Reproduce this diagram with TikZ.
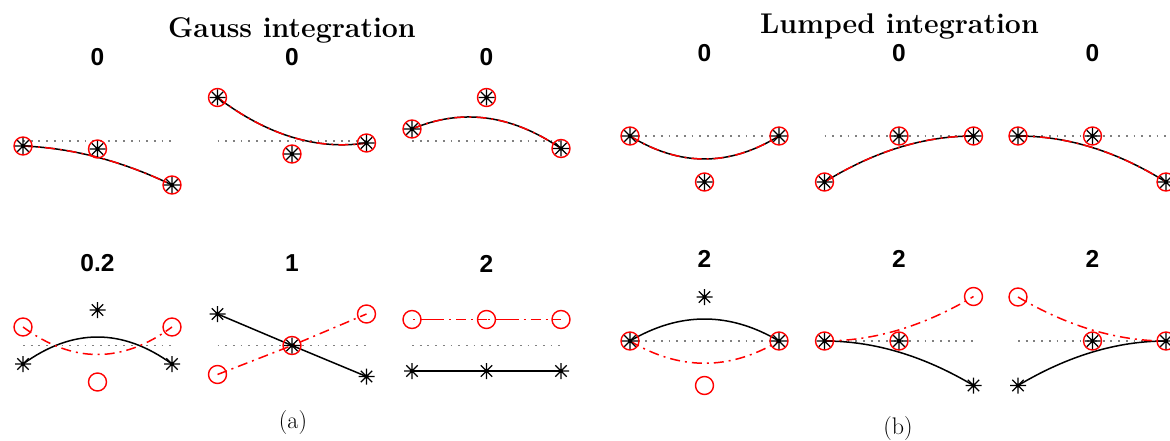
\documentclass[tikz,border=0pt]{standalone}
\usepackage{fontspec}
\newfontfamily\labfont{Liberation Sans}
\usetikzlibrary{calc}
\tikzset{
 blk/.style={black, line width=1.5pt},
 rdd/.style={red, line width=1.5pt, dash pattern=on 10pt off 5pt on 2pt off 5pt},
 dots/.style={black!50, line width=1.8pt, dash pattern=on 1.8pt off 5.9pt},
 circ/.style={circle, draw=red, line width=1.4pt, minimum size=18pt, inner sep=0pt},
 num/.style={font=\labfont\bfseries\fontsize{24.5}{26}\selectfont, inner sep=0pt},
 ttl/.style={font=\bfseries\fontsize{28.5}{31}\selectfont, inner sep=0pt, anchor=base},
 capt/.style={font=\fontsize{24}{26}\selectfont, inner sep=0pt, anchor=base},
 astk/.pic={\draw[line width=1.3pt] (-8,0)--(8,0) (0,-8)--(0,8) (-5.7,-5.7)--(5.7,5.7) (-5.7,5.7)--(5.7,-5.7);}
}
\newcommand\qcurve[4]{\draw[#1] (#2) .. controls ($(#2)!2/3!(#3)$) and ($(#4)!2/3!(#3)$) .. (#4);}
\newcommand\both[1]{\node[circ] at (#1) {}; \pic at (#1) {astk};}
\newcommand\ring[1]{\node[circ] at (#1) {};}
\newcommand\aster[1]{\pic at (#1) {astk};}
\begin{document}
\begin{tikzpicture}[x=1pt,y=-1pt]
\useasboundingbox (0,0) rectangle (1170,441);
\clip (0,0) rectangle (1170,441);
% ---------- titles and captions
\node[ttl] (tA) at (292,37.3) {Gauss integration};
\node[ttl] (tB) at (899.5,33.3) {Lumped integration};
\node[capt] (ca) at (293,428.5) {(a)};
\node[capt] (cb) at (898,434.5) {(b)};
% ---------- labels
\node[num] (la1) at (97.5,57) {0};
\node[num] (la2) at (292,57) {0};
\node[num] (la3) at (486.5,57) {0};
\node[num] (la4) at (97.5,263.5) {0.2};
\node[num] (la5) at (292,263.5) {1};
\node[num] (la6) at (486.5,263.5) {2};
\node[num] (lb1) at (704.5,53) {0};
\node[num] (lb2) at (899,53) {0};
\node[num] (lb3) at (1092.5,53) {0};
\node[num] (lb4) at (704.5,258.5) {2};
\node[num] (lb5) at (899,258.5) {2};
\node[num] (lb6) at (1092.5,258.5) {2};
% ---------- coordinates
% A1
\coordinate (a1l) at (23,146); \coordinate (a1m) at (97.5,149); \coordinate (a1r) at (172,185);
% A2
\coordinate (a2l) at (217.5,97.5); \coordinate (a2m) at (292,154); \coordinate (a2r) at (366.5,143);
% A3
\coordinate (a3l) at (412,129); \coordinate (a3m) at (486.5,97.5); \coordinate (a3r) at (561,148.5);
% A4
\coordinate (a4rl) at (23,327); \coordinate (a4rm) at (97.5,382); \coordinate (a4rr) at (172,327);
\coordinate (a4sl) at (23,364); \coordinate (a4sm) at (97.5,310); \coordinate (a4sr) at (172,364);
% A5
\coordinate (a5sl) at (217.5,314); \coordinate (a5m) at (292,345.5); \coordinate (a5sr) at (366.5,376.5);
\coordinate (a5rl) at (217.5,374.5); \coordinate (a5rr) at (366.5,314);
% A6
\coordinate (a6rl) at (412,319.5); \coordinate (a6rm) at (486.5,319.5); \coordinate (a6rr) at (561,319.5);
\coordinate (a6sl) at (412,371); \coordinate (a6sm) at (486.5,371); \coordinate (a6sr) at (561,371);
% B1
\coordinate (b1l) at (630,136); \coordinate (b1m) at (704.5,182); \coordinate (b1r) at (779,136);
% B2
\coordinate (b2l) at (824.5,182); \coordinate (b2m) at (899,136); \coordinate (b2r) at (973.5,136);
% B3
\coordinate (b3l) at (1018,136); \coordinate (b3m) at (1092.5,136); \coordinate (b3r) at (1166,182);
% B4
\coordinate (b4l) at (630,341); \coordinate (b4r) at (779,341);
\coordinate (b4s) at (704.5,297); \coordinate (b4c) at (704.5,385.5);
% B5
\coordinate (b5l) at (824.5,341); \coordinate (b5m) at (899,341);
\coordinate (b5c) at (973.5,296.5); \coordinate (b5s) at (973.5,385.5);
% B6
\coordinate (b6c) at (1018,297); \coordinate (b6s) at (1018,385.5);
\coordinate (b6m) at (1092.5,341); \coordinate (b6r) at (1166,341);
% ---------- dotted reference lines
\draw[dots] (23,141) -- (172,141);
\draw[dots] (217.5,141) -- (366.5,141);
\draw[dots] (412,141) -- (561,141);
\draw[dots] (23,345.5) -- (172,345.5);
\draw[dots] (217.5,345.5) -- (366.5,345.5);
\draw[dots] (412,345.5) -- (561,345.5);
\draw[dots] (630,136) -- (779,136);
\draw[dots] (824.5,136) -- (973.5,136);
\draw[dots] (1018,136) -- (1176,136);
\draw[dots] (630,341) -- (779,341);
\draw[dots] (824.5,341) -- (973.5,341);
\draw[dots] (1018,341) -- (1176,341);
% ---------- curves
\qcurve{blk}{a1l}{a1m}{a1r} \qcurve{rdd}{a1l}{a1m}{a1r}
\qcurve{blk}{a2l}{a2m}{a2r} \qcurve{rdd}{a2l}{a2m}{a2r}
\qcurve{blk}{a3l}{a3m}{a3r} \qcurve{rdd}{a3l}{a3m}{a3r}
\qcurve{blk}{a4sl}{a4sm}{a4sr} \qcurve{rdd}{a4rl}{a4rm}{a4rr}
\draw[blk] (a5sl) -- (a5m) -- (a5sr);
\draw[rdd] (a5rl) -- (a5m) -- (a5rr);
\draw[blk] (a6sl) -- (a6sm) -- (a6sr);
\draw[rdd, dash pattern=on 24pt off 5pt on 2pt off 5pt on 10pt off 5pt on 2pt off 5pt, dash phase=-8pt] (a6rl) -- (a6rm);
\draw[rdd, dash pattern=on 24pt off 5pt on 2pt off 5pt on 10pt off 5pt on 2pt off 5pt, dash phase=-8pt] (a6rm) -- (a6rr);
\qcurve{blk}{b1l}{b1m}{b1r} \qcurve{rdd}{b1l}{b1m}{b1r}
\qcurve{blk}{b2l}{b2m}{b2r} \qcurve{rdd}{b2l}{b2m}{b2r}
\qcurve{blk}{b3l}{b3m}{b3r} \qcurve{rdd}{b3l}{b3m}{b3r}
\qcurve{blk}{b4l}{b4s}{b4r} \qcurve{rdd}{b4l}{b4c}{b4r}
\qcurve{blk}{b5l}{b5m}{b5s} \qcurve{rdd}{b5l}{b5m}{b5c}
\qcurve{blk}{b6s}{b6m}{b6r} \qcurve{rdd}{b6c}{b6m}{b6r}
% ---------- markers
\both{a1l} \both{a1m} \both{a1r}
\both{a2l} \both{a2m} \both{a2r}
\both{a3l} \both{a3m} \both{a3r}
\ring{a4rl} \ring{a4rm} \ring{a4rr} \aster{a4sl} \aster{a4sm} \aster{a4sr}
\aster{a5sl} \aster{a5sr} \ring{a5rl} \ring{a5rr} \both{a5m}
\ring{a6rl} \ring{a6rm} \ring{a6rr} \aster{a6sl} \aster{a6sm} \aster{a6sr}
\both{b1l} \both{b1m} \both{b1r}
\both{b2l} \both{b2m} \both{b2r}
\both{b3l} \both{b3m} \both{b3r}
\both{b4l} \both{b4r} \aster{b4s} \ring{b4c}
\both{b5l} \both{b5m} \ring{b5c} \aster{b5s}
\ring{b6c} \aster{b6s} \both{b6m} \both{b6r}
\end{tikzpicture}
\end{document}
